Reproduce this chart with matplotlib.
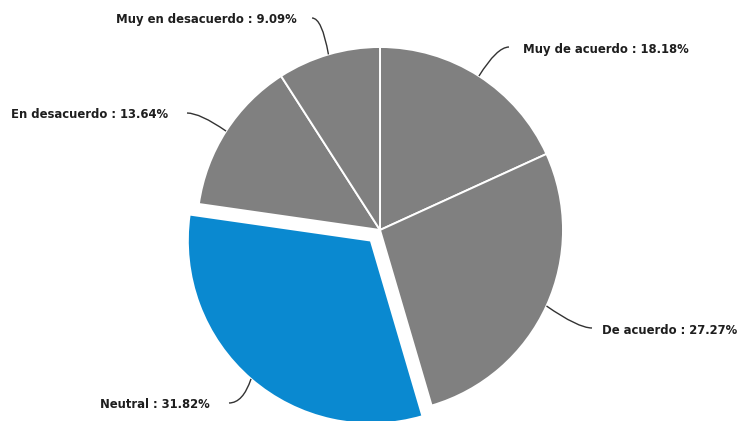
import matplotlib
matplotlib.use("Agg")
import matplotlib.pyplot as plt
from matplotlib.path import Path
from matplotlib.patches import PathPatch
import numpy as np

# Survey answers, clockwise from 12 o'clock
categories = ["Muy de acuerdo", "De acuerdo", "Neutral", "En desacuerdo", "Muy en desacuerdo"]
percentages = [18.18, 27.27, 31.82, 13.64, 9.09]
highlighted = "Neutral"

GRAY = "#808080"
BLUE = "#0a89d0"
TEXT = "#1e1e1e"

W, H = 741, 421
fig = plt.figure(figsize=(W / 100, H / 100), dpi=100)
ax = fig.add_axes([0, 0, 1, 1])

radius = 183
center = (380, H - 230)
colors = [BLUE if c == highlighted else GRAY for c in categories]
explode = [14 if c == highlighted else 0 for c in categories]

wedges, _ = ax.pie(percentages, colors=colors, explode=explode, radius=radius,
                   center=center, startangle=90, counterclock=False,
                   wedgeprops=dict(edgecolor="white", linewidth=1.4))

# pie() resets the view, so use pixel-sized data units afterwards
ax.set_xlim(0, W)
ax.set_ylim(0, H)
ax.set_aspect("equal")
ax.axis("off")

# label placement: (text x, text y, horizontal alignment, leader start x, bend x)
layout = {
    "Muy de acuerdo":    (523, H - 49, "left", 509, 497),
    "De acuerdo":        (602, H - 330, "left", 592, 578),
    "Neutral":           (210, H - 405, "right", 229, 243),
    "En desacuerdo":     (168, H - 115, "right", 187, 200),
    "Muy en desacuerdo": (297, H - 20, "right", 312, 322),
}

for wedge, name, pct in zip(wedges, categories, percentages):
    mid = np.deg2rad((wedge.theta1 + wedge.theta2) / 2)
    cx, cy = wedge.center
    ex, ey = cx + wedge.r * np.cos(mid), cy + wedge.r * np.sin(mid)
    tx, ty, ha, sx, bx = layout[name]
    path = Path([(sx, ty + 2), (bx, ty + 2), (ex, ey)],
                [Path.MOVETO, Path.CURVE3, Path.CURVE3])
    ax.add_patch(PathPatch(path, fill=False, edgecolor="#333333", linewidth=1.0))
    ax.text(tx, ty, f"{name} : {pct:.2f}%", ha=ha, va="center",
            fontsize=8.4, fontweight="bold", family="DejaVu Sans", color=TEXT)

fig.savefig("out.png", dpi=100)
